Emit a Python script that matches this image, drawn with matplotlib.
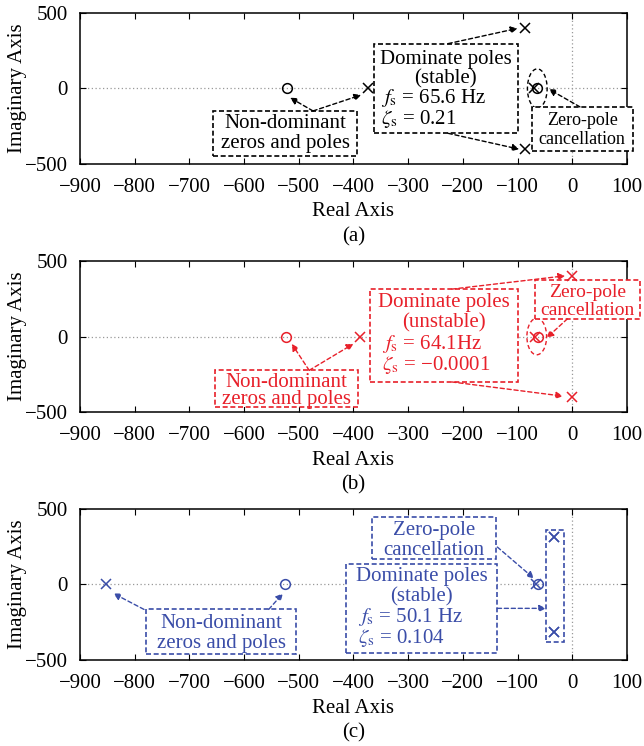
import matplotlib
matplotlib.use("Agg")
import matplotlib.pyplot as plt
from matplotlib.patches import Rectangle, Ellipse
import numpy as np

plt.rcParams.update({"font.family": "Liberation Serif", "mathtext.fontset": "stix",
                     "axes.linewidth": 1.1, "font.size": 15})

# pole / zero locations per case (real, imag)
POLES_A = [(-373, 0), (-86.6, 403), (-86.6, -403), (-70, 0)]
ZEROS_A = [(-522, 0), (-64, 0)]
POLES_B = [(-389, 0), (0.04, 402.8), (0.04, -402.8), (-68, 0)]
ZEROS_B = [(-524, 0), (-62, 0)]
POLES_C = [(-853, 0), (-32.7, 313), (-32.7, -313), (-66, 0)]
ZEROS_C = [(-525, 0), (-62, 0)]
FS = ["65.6 Hz", "64.1Hz", "50.1 Hz"]
ZETA = ["0.21", "\u22120.0001", "0.104"]
STAB = ["(stable)", "(unstable)", "(stable)"]
XTICKS = np.arange(-900, 101, 100)
YTICKS = [-500, 0, 500]
COLS = ["black", "#E8202A", "#3A4DA8"]

fig = plt.figure(figsize=(6.44, 7.46), dpi=100)
L, W, H = 0.1242, 0.8494, 0.2024
bottoms = [0.7802, 0.4477, 0.1153]
axes = [fig.add_axes([L, b, W, H]) for b in bottoms]


def base(ax, tag):
    ax.set_xlim(-900, 100); ax.set_ylim(-500, 500)
    ax.set_xticks(XTICKS); ax.set_yticks(YTICKS)
    ax.set_xticklabels([str(t).replace("-", "\u2212") for t in XTICKS])
    ax.set_yticklabels([str(t).replace("-", "\u2212") for t in YTICKS])
    ax.tick_params(direction="in", top=True, right=True, labelsize=15, length=4)
    ax.tick_params(axis="x", pad=10)
    ax.tick_params(axis="y", pad=9)
    ax.axhline(0, color="#999999", lw=0.9, ls=(0, (1, 2)), zorder=0)
    ax.axvline(0, color="#999999", lw=0.9, ls=(0, (1, 2)), zorder=0)
    ax.set_xlabel("Real Axis", fontsize=15)
    ax.xaxis.set_label_coords(0.5, -0.318)
    ax.xaxis.label.set_va("center")
    ax.set_ylabel("Imaginary Axis", fontsize=15)
    ax.yaxis.set_label_coords(-0.115, 0.5)
    ax.yaxis.label.set_va("center")
    ax.text(0.5, -0.483, tag, transform=ax.transAxes, ha="center", va="center", fontsize=15)


def pz(ax, poles, zeros, c):
    ax.plot([p[0] for p in poles], [p[1] for p in poles], "x", ms=7, mew=1.1, color=c, zorder=4)
    ax.plot([z[0] for z in zeros], [z[1] for z in zeros], "o", ms=7, mew=1.1, mfc="none", color=c, zorder=4)


def box(ax, x0, x1, y0, y1, c):
    ax.add_patch(Rectangle((x0, y0), x1 - x0, y1 - y0, fill=True, fc="white", ec=c,
                           ls=(0, (3, 1.6)), lw=1.2, clip_on=False, zorder=3))


def arr(ax, xy0, xy1, c):
    ax.annotate("", xy=xy1, xytext=xy0, zorder=5, annotation_clip=False,
                arrowprops=dict(arrowstyle="-|>", ls=(0, (3, 2)), color=c, lw=1.0,
                                mutation_scale=10, shrinkA=0, shrinkB=0))


def txt(ax, x, y, s, c, fs=15, ha="center"):
    ax.text(x, y, s, color=c, fontsize=fs, ha=ha, va="center", zorder=6)


# ---- (a)
ax = axes[0]; c = COLS[0]
base(ax, "(a)")
pz(ax, POLES_A, ZEROS_A, c)
ax.add_patch(Ellipse((-64, 0), 36, 260, fill=False, ec=c, ls=(0, (3, 2)), lw=1.0))
box(ax, -657, -393, -447, -149, c)
txt(ax, -525, -230, "Non-dominant", c); txt(ax, -525, -365, "zeros and poles", c)
box(ax, -363, -99, -297, 297, c)
txt(ax, -231, 193, "Dominate poles", c); txt(ax, -231, 65, STAB[0], c)
txt(ax, -350, -64, r"$f_\mathrm{s}$ = " + FS[0], c, ha="left")
txt(ax, -350, -200, r"$\zeta_\mathrm{s}$ = " + ZETA[0], c, ha="left")
box(ax, -74, 111, -414, -122, c)
txt(ax, 18, -215, "Zero-pole", c, fs=13); txt(ax, 18, -335, "cancellation", c, fs=13)
arr(ax, (-474, -149), (-516, -61), c)
arr(ax, (-474, -149), (-386, -43), c)
arr(ax, (-227, 297), (-100, 398), c)
arr(ax, (-227, -297), (-97, -402), c)
arr(ax, (14, -122), (-43, -4), c)

# ---- (b)
ax = axes[1]; c = COLS[1]
base(ax, "(b)")
pz(ax, POLES_B, ZEROS_B, c)
ax.add_patch(Ellipse((-65, 0), 36, 242, fill=False, ec=c, ls=(0, (3, 2)), lw=1.0))
box(ax, -654, -391, -466, -224, c)
txt(ax, -522, -305, "Non-dominant", c); txt(ax, -522, -420, "zeros and poles", c)
box(ax, -370, -99, -301, 314, c)
txt(ax, -235, 226, "Dominate poles", c); txt(ax, -235, 88, STAB[1], c)
txt(ax, -347, -48, r"$f_\mathrm{s}$ = " + FS[1], c, ha="left")
txt(ax, -347, -191, r"$\zeta_\mathrm{s}$ = " + ZETA[1], c, ha="left")
box(ax, -69, 123, 117, 373, c)
txt(ax, 27, 292, "Zero-pole", c, fs=14); txt(ax, 27, 171, "cancellation", c, fs=14)
arr(ax, (-481, -224), (-513, -48), c)
arr(ax, (-481, -224), (-400, -48), c)
arr(ax, (-220, 314), (-13, 402), c)
arr(ax, (-220, -301), (-17, -395), c)
arr(ax, (-9, 117), (-47, -9), c)

# ---- (c)
ax = axes[2]; c = COLS[2]
base(ax, "(c)")
pz(ax, POLES_C, ZEROS_C, c)
box(ax, -48, -15, -378, 362, c)
pz(ax, POLES_C[1:3], [], c)
box(ax, -779, -506, -461, -165, c)
txt(ax, -642, -257, "Non-dominant", c); txt(ax, -642, -389, "zeros and poles", c)
box(ax, -413, -137, -451, 138, c)
txt(ax, -275, 50, "Dominate poles", c); txt(ax, -275, -82, STAB[2], c)
txt(ax, -391, -213, r"$f_\mathrm{s}$ = " + FS[2], c, ha="left")
txt(ax, -391, -356, r"$\zeta_\mathrm{s}$ = " + ZETA[2], c, ha="left")
box(ax, -367, -139, 171, 446, c)
txt(ax, -253, 358, "Zero-pole", c); txt(ax, -253, 226, "cancellation", c)
arr(ax, (-783, -165), (-839, -59), c)
arr(ax, (-555, -165), (-529, -59), c)
arr(ax, (-137, 248), (-70, 40), c)
arr(ax, (-137, -158), (-48, -158), c)

fig.savefig("out.png", dpi=100, facecolor="white")
